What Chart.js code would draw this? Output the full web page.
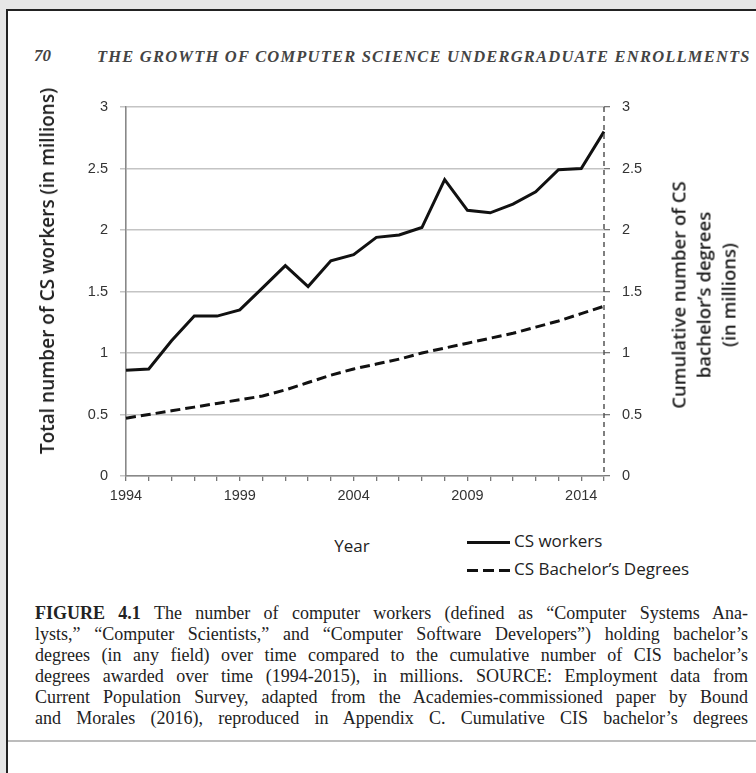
<!DOCTYPE html>
<html>
<head>
<meta charset="utf-8">
<script src="https://cdn.jsdelivr.net/npm/chart.js@4.4.0/dist/chart.umd.min.js"></script>
<style>
  html, body { margin: 0; padding: 0; }
  body { width: 756px; height: 773px; background: #e6e6e6; position: relative; overflow: hidden; color: #222; }
  #page { position: absolute; left: 6px; top: 9px; width: 750px; height: 764px; background: #fff;
          border-top: 2px solid #222; border-left: 2px solid #222; box-sizing: border-box; }
  #pageEnd { position: absolute; left: 8px; top: 740px; width: 748px; height: 2px; background: #bcbcbc; }
  .serif { font-family: 'Liberation Serif', 'DejaVu Serif', serif; }
  #pno { position: absolute; left: 34px; top: 46px; font-size: 17px; font-style: italic; font-weight: bold; color: #444; }
  #runhead { position: absolute; left: 97px; top: 47px; font-size: 16.5px; font-style: italic; font-weight: bold;
             color: #444; white-space: nowrap; letter-spacing: 1.2px; }
  #wrap { position: absolute; left: 0; top: 80px; width: 756px; height: 440px; }
  .sans { font-family: 'Open Sans', 'Liberation Sans', sans-serif; }
  .ytitle { position: absolute; white-space: nowrap; font-size: 18.5px; font-weight: 600; color: #222;
            transform: translate(-50%, -50%) rotate(-90deg); text-align: center; }
  #year { position: absolute; left: 352px; top: 545px; transform: translate(-50%, -50%); font-size: 17px; color: #222; }
  .leg { position: absolute; left: 467px; font-size: 17px; color: #222; white-space: nowrap; }
  .sw { display: inline-block; width: 43px; height: 3px; vertical-align: middle; margin-right: 4px; }
  .solid { background: #111; }
  .dash { background: repeating-linear-gradient(90deg, #111 0 11px, transparent 11px 16px); }
  #caption { position: absolute; left: 35px; top: 603px; width: 713px; font-size: 18px; line-height: 21px; color: #222; }
  #caption div { text-align: justify; text-align-last: justify; }
</style>
</head>
<body>
<div id="page"></div>
<div id="pageEnd"></div>
<div id="pno" class="serif">70</div>
<div id="runhead" class="serif">THE GROWTH OF COMPUTER SCIENCE UNDERGRADUATE ENROLLMENTS</div>

<div id="wrap"><canvas id="chart"></canvas></div>

<div class="ytitle sans" style="left:47px; top:271px; font-size:19px;">Total number of CS workers (in millions)</div>
<div class="ytitle sans" style="left:703px; top:295px; line-height:25px;">Cumulative number of CS<br>bachelor’s degrees<br>(in millions)</div>
<div id="year" class="sans">Year</div>
<div class="leg sans" style="top:529px;"><span class="sw solid"></span>CS workers</div>
<div class="leg sans" style="top:557px;"><span class="sw dash"></span>CS Bachelor’s Degrees</div>

<div id="caption" class="serif">
  <div><b>FIGURE 4.1</b> The number of computer workers (defined as “Computer Systems Ana-</div>
  <div>lysts,” “Computer Scientists,” and “Computer Software Developers”) holding bachelor’s</div>
  <div>degrees (in any field) over time compared to the cumulative number of CIS bachelor’s</div>
  <div>degrees awarded over time (1994-2015), in millions. SOURCE: Employment data from</div>
  <div>Current Population Survey, adapted from the Academies-commissioned paper by Bound</div>
  <div>and Morales (2016), reproduced in Appendix C. Cumulative CIS bachelor’s degrees</div>
</div>

<script>
const years = ['1994', '1995', '1996', '1997', '1998', '1999', '2000', '2001', '2002', '2003', '2004',
               '2005', '2006', '2007', '2008', '2009', '2010', '2011', '2012', '2013', '2014', '2015'];
const labeledYears = ['1994', '1999', '2004', '2009', '2014'];
const csWorkers = [0.86, 0.87, 1.10, 1.30, 1.30, 1.35, 1.53, 1.71, 1.54, 1.75, 1.80,
                   1.94, 1.96, 2.02, 2.41, 2.16, 2.14, 2.21, 2.31, 2.49, 2.50, 2.80];
const csDegrees = [0.47, 0.50, 0.53, 0.56, 0.59, 0.62, 0.65, 0.70, 0.76, 0.82, 0.87,
                   0.91, 0.95, 1.00, 1.04, 1.08, 1.12, 1.16, 1.21, 1.26, 1.32, 1.38];
const yMin = 0, yMax = 3, yStep = 0.5;

const tickFont = { family: "'Liberation Sans', sans-serif", size: 14.5 };
const plainNumber = function(value) { return String(Number(value)); };

// right axis of the original is a dashed line
const dashedRightAxis = {
    id: 'dashedRightAxis',
    afterDatasetsDraw(chart) {
        const { ctx, chartArea } = chart;
        ctx.save();
        ctx.strokeStyle = '#555';
        ctx.lineWidth = 1.5;
        ctx.setLineDash([5, 4]);
        ctx.beginPath();
        ctx.moveTo(chartArea.right, chartArea.top);
        ctx.lineTo(chartArea.right, chartArea.bottom);
        ctx.stroke();
        ctx.restore();
    }
};

const ctx = document.getElementById('chart').getContext('2d');
new Chart(ctx, {
    type: 'line',
    data: {
        labels: years,
        datasets: [{
            label: 'CS workers',
            data: csWorkers,
            yAxisID: 'y',
            borderColor: '#111',
            borderWidth: 3,
            pointRadius: 0,
            tension: 0
        }, {
            label: 'CS Bachelor’s Degrees',
            data: csDegrees,
            yAxisID: 'y1',
            borderColor: '#111',
            borderWidth: 3,
            borderDash: [10, 5],
            pointRadius: 0,
            tension: 0
        }]
    },
    options: {
        responsive: true,
        maintainAspectRatio: false,
        animation: false,
        layout: { padding: { top: 27, left: 0, right: 0, bottom: 0 } },
        plugins: {
            legend: { display: false },
            tooltip: { enabled: false }
        },
        scales: {
            x: {
                offset: false,
                grid: { drawOnChartArea: false, drawTicks: true, tickLength: 5, color: '#777', lineWidth: 1.3 },
                border: { color: '#888', width: 1.6 },
                ticks: {
                    autoSkip: false,
                    maxRotation: 0,
                    padding: 6,
                    color: '#333',
                    font: tickFont,
                    callback: function(value) {
                        const label = this.getLabelForValue(value);
                        return labeledYears.includes(label) ? label : '';
                    }
                },
                afterFit: function(scale) { scale.height = 44; }
            },
            y: {
                position: 'left',
                min: yMin,
                max: yMax,
                grid: { color: '#c4c4c4', lineWidth: 1.5, tickLength: 6, drawTicks: true },
                border: { color: '#888', width: 1.6 },
                ticks: { stepSize: yStep, padding: 12, color: '#333', font: tickFont, callback: plainNumber },
                afterFit: function(scale) { scale.width = 126; }
            },
            y1: {
                position: 'right',
                min: yMin,
                max: yMax,
                grid: { drawOnChartArea: false, drawTicks: true, tickLength: 6, color: '#777', lineWidth: 1.3 },
                border: { display: false },
                ticks: { stepSize: yStep, padding: 12, color: '#333', font: tickFont, callback: plainNumber },
                afterFit: function(scale) { scale.width = 152; }
            }
        }
    },
    plugins: [dashedRightAxis]
});
</script>
</body>
</html>
